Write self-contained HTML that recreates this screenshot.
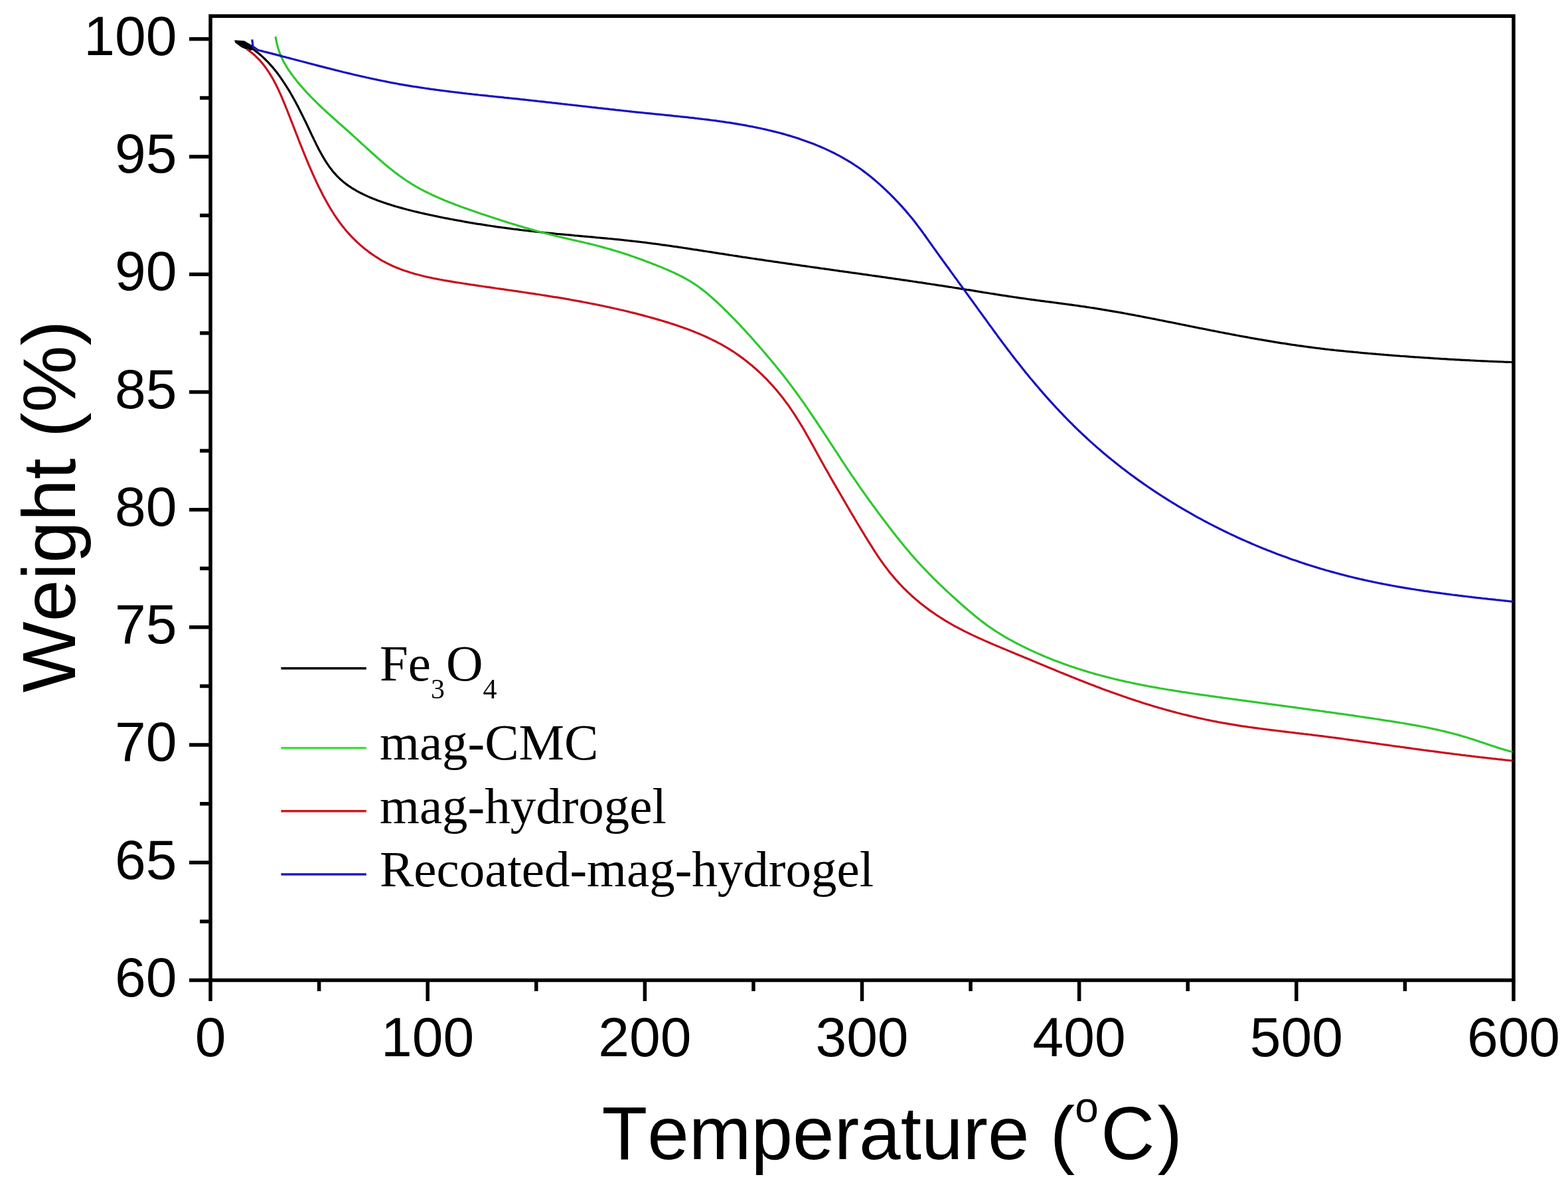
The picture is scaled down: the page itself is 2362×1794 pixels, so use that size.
<!DOCTYPE html>
<html><head><meta charset="utf-8"><title>TGA curves</title>
<style>
html,body{margin:0;padding:0;background:#fff;}
body{width:2362px;height:1794px;overflow:hidden;}
svg{display:block;}
text{font-kerning:none;}
.tl{font-family:"Liberation Sans",Arial,sans-serif;font-size:84.0px;fill:#000;}
.at{font-family:"Liberation Sans",Arial,sans-serif;font-size:112.5px;fill:#000;}
.lg{font-family:"Liberation Serif","Times New Roman",serif;font-size:77.0px;fill:#000;}
</style></head>
<body>
<svg width="2362" height="1794" viewBox="0 0 2362 1794">
<rect width="2362" height="1794" fill="#fff"/>
<rect x="317.05" y="24.20" width="1962.95" height="1452.30" fill="none" stroke="#000" stroke-width="5.5"/>
<path d="M317.05 1476.50V1508.00M480.63 1476.50V1493.00M644.21 1476.50V1508.00M807.79 1476.50V1493.00M971.37 1476.50V1508.00M1134.95 1476.50V1493.00M1298.53 1476.50V1508.00M1462.10 1476.50V1493.00M1625.68 1476.50V1508.00M1789.26 1476.50V1493.00M1952.84 1476.50V1508.00M2116.42 1476.50V1493.00M2280.00 1476.50V1508.00M317.05 1476.50H285.05M317.05 1387.89H301.05M317.05 1299.29H285.05M317.05 1210.68H301.05M317.05 1122.08H285.05M317.05 1033.47H301.05M317.05 944.86H285.05M317.05 856.26H301.05M317.05 767.65H285.05M317.05 679.04H301.05M317.05 590.44H285.05M317.05 501.83H301.05M317.05 413.22H285.05M317.05 324.62H301.05M317.05 236.01H285.05M317.05 147.41H301.05M317.05 58.80H285.05" stroke="#000" stroke-width="5.5" fill="none"/>
<text x="266.5" y="1500.7" class="tl" text-anchor="end">60</text>
<text x="266.5" y="1323.5" class="tl" text-anchor="end">65</text>
<text x="266.5" y="1146.3" class="tl" text-anchor="end">70</text>
<text x="266.5" y="969.1" class="tl" text-anchor="end">75</text>
<text x="266.5" y="791.9" class="tl" text-anchor="end">80</text>
<text x="266.5" y="614.6" class="tl" text-anchor="end">85</text>
<text x="266.5" y="437.4" class="tl" text-anchor="end">90</text>
<text x="266.5" y="260.2" class="tl" text-anchor="end">95</text>
<text x="266.5" y="83.0" class="tl" text-anchor="end">100</text>
<text x="317.1" y="1591.0" class="tl" text-anchor="middle">0</text>
<text x="644.2" y="1591.0" class="tl" text-anchor="middle">100</text>
<text x="971.4" y="1591.0" class="tl" text-anchor="middle">200</text>
<text x="1298.5" y="1591.0" class="tl" text-anchor="middle">300</text>
<text x="1625.7" y="1591.0" class="tl" text-anchor="middle">400</text>
<text x="1952.8" y="1591.0" class="tl" text-anchor="middle">500</text>
<text x="2280.0" y="1591.0" class="tl" text-anchor="middle">600</text>
<text transform="translate(112.6 763.0) rotate(-90)" class="at" text-anchor="middle" style="font-size:113.3px">Weight (%)</text>
<text x="906.5" y="1745.7" class="at">Temperature (<tspan font-size="64.0" dy="-56.0">o</tspan><tspan dy="56.0" dx="3.5">C</tspan><tspan dx="4.0">)</tspan></text>
<path d="M367.0 65.5L369.7 66.9L372.3 68.4L375.0 70.0L377.5 71.6L380.0 73.3L382.5 75.0L384.9 76.8L387.3 78.6L389.6 80.5L391.9 82.4L394.2 84.4L396.4 86.4L398.6 88.5L400.7 90.6L402.8 92.7L404.9 94.9L406.9 97.1L408.9 99.4L410.9 101.6L412.8 103.9L414.7 106.3L416.5 108.6L418.4 111.0L420.2 113.4L421.9 115.9L423.7 118.3L425.4 120.8L427.0 123.3L428.7 125.8L430.3 128.3L431.9 130.8L433.5 133.3L435.1 135.9L436.6 138.4L438.1 141.0L439.6 143.6L441.1 146.2L442.5 148.8L444.0 151.4L445.4 154.0L446.8 156.7L448.2 159.3L449.6 162.0L450.9 164.6L452.3 167.3L453.6 170.0L455.0 172.7L456.3 175.4L457.6 178.1L458.9 180.8L460.3 183.5L461.6 186.2L462.9 189.0L464.2 191.7L465.5 194.5L466.8 197.2L468.1 200.0L469.4 202.8L470.7 205.6L472.1 208.3L473.4 211.1L474.8 213.9L476.1 216.7L477.5 219.4L478.9 222.2L480.3 224.9L481.7 227.6L483.2 230.3L484.7 233.0L486.2 235.6L487.7 238.2L489.3 240.8L490.9 243.4L492.5 245.9L494.2 248.4L495.9 250.8L497.7 253.3L499.5 255.6L501.3 257.9L503.2 260.2L505.2 262.4L507.2 264.6L509.2 266.7L511.3 268.7L513.5 270.7L515.7 272.6L517.9 274.5L520.2 276.3L522.6 278.1L525.0 279.8L527.4 281.4L529.9 283.1L532.4 284.6L535.0 286.1L537.5 287.6L540.2 289.1L542.8 290.5L545.5 291.8L548.2 293.1L550.9 294.4L553.6 295.6L556.4 296.9L559.2 298.0L562.0 299.2L564.8 300.3L567.7 301.4L570.5 302.4L573.4 303.5L576.2 304.5L579.1 305.5L582.0 306.4L584.8 307.4L587.7 308.3L590.6 309.2L593.5 310.1L596.4 311.0L599.3 311.8L602.2 312.6L605.1 313.4L608.0 314.2L610.9 315.0L613.8 315.8L616.7 316.5L619.6 317.3L622.6 318.0L625.5 318.7L628.4 319.4L631.4 320.1L634.3 320.8L637.2 321.4L640.2 322.1L643.1 322.7L646.0 323.4L649.0 324.0L651.9 324.6L654.9 325.3L657.8 325.9L660.7 326.5L663.7 327.1L666.6 327.7L669.6 328.3L672.5 328.8L675.5 329.4L678.4 330.0L681.4 330.5L684.3 331.1L687.3 331.6L690.3 332.2L693.2 332.7L696.2 333.2L699.1 333.8L702.1 334.3L705.1 334.8L708.0 335.3L711.0 335.8L713.9 336.3L716.9 336.8L719.9 337.3L722.8 337.7L725.8 338.2L728.8 338.7L731.7 339.1L734.7 339.6L737.7 340.0L740.7 340.5L743.6 340.9L746.6 341.3L749.6 341.8L752.6 342.2L755.5 342.6L758.5 343.0L761.5 343.4L764.5 343.8L767.5 344.2L770.4 344.6L773.4 345.0L776.4 345.3L779.4 345.7L782.4 346.1L785.4 346.5L788.3 346.8L791.3 347.2L794.3 347.5L797.3 347.9L800.3 348.2L803.3 348.5L806.3 348.9L809.3 349.2L812.3 349.5L815.2 349.8L818.2 350.2L821.2 350.5L824.2 350.8L827.2 351.1L830.2 351.4L833.2 351.7L836.2 352.0L839.2 352.3L842.2 352.5L845.2 352.8L848.2 353.1L851.2 353.4L854.2 353.7L857.2 353.9L860.2 354.2L863.2 354.5L866.2 354.8L869.2 355.0L872.2 355.3L875.2 355.6L878.2 355.9L881.1 356.1L884.1 356.4L887.1 356.7L890.1 356.9L893.1 357.2L896.1 357.5L899.1 357.8L902.1 358.0L905.1 358.3L908.1 358.6L911.1 358.9L914.1 359.2L917.1 359.5L920.1 359.7L923.1 360.0L926.1 360.3L929.1 360.6L932.1 360.9L935.1 361.2L938.1 361.5L941.1 361.9L944.1 362.2L947.0 362.5L950.0 362.8L953.0 363.2L956.0 363.5L959.0 363.8L962.0 364.2L965.0 364.5L968.0 364.9L971.0 365.2L973.9 365.6L976.9 366.0L979.9 366.4L982.9 366.8L985.9 367.1L988.8 367.5L991.8 367.9L994.8 368.3L997.8 368.8L1000.8 369.2L1003.7 369.6L1006.7 370.0L1009.7 370.4L1012.7 370.9L1015.7 371.3L1018.6 371.7L1021.6 372.2L1024.6 372.6L1027.6 373.0L1030.5 373.5L1033.5 373.9L1036.5 374.4L1039.4 374.8L1042.4 375.3L1045.4 375.8L1048.4 376.2L1051.3 376.7L1054.3 377.1L1057.3 377.6L1060.3 378.1L1063.2 378.5L1066.2 379.0L1069.2 379.4L1072.1 379.9L1075.1 380.4L1078.1 380.8L1081.1 381.3L1084.0 381.8L1087.0 382.2L1090.0 382.7L1093.0 383.2L1095.9 383.6L1098.9 384.1L1101.9 384.5L1104.8 385.0L1107.8 385.4L1110.8 385.9L1113.8 386.4L1116.7 386.8L1119.7 387.3L1122.7 387.7L1125.7 388.2L1128.6 388.6L1131.6 389.0L1134.6 389.5L1137.6 389.9L1140.5 390.4L1143.5 390.8L1146.5 391.2L1149.5 391.7L1152.4 392.1L1155.4 392.6L1158.4 393.0L1161.4 393.4L1164.3 393.9L1167.3 394.3L1170.3 394.7L1173.3 395.2L1176.3 395.6L1179.2 396.0L1182.2 396.4L1185.2 396.9L1188.2 397.3L1191.1 397.7L1194.1 398.2L1197.1 398.6L1200.1 399.0L1203.1 399.4L1206.0 399.9L1209.0 400.3L1212.0 400.7L1215.0 401.1L1217.9 401.5L1220.9 402.0L1223.9 402.4L1226.9 402.8L1229.9 403.2L1232.8 403.6L1235.8 404.1L1238.8 404.5L1241.8 404.9L1244.8 405.3L1247.7 405.7L1250.7 406.2L1253.7 406.6L1256.7 407.0L1259.6 407.4L1262.6 407.8L1265.6 408.3L1268.6 408.7L1271.6 409.1L1274.5 409.5L1277.5 409.9L1280.5 410.3L1283.5 410.8L1286.5 411.2L1289.4 411.6L1292.4 412.0L1295.4 412.4L1298.4 412.9L1301.3 413.3L1304.3 413.7L1307.3 414.1L1310.3 414.5L1313.3 415.0L1316.2 415.4L1319.2 415.8L1322.2 416.2L1325.2 416.7L1328.2 417.1L1331.1 417.5L1334.1 417.9L1337.1 418.4L1340.1 418.8L1343.0 419.2L1346.0 419.7L1349.0 420.1L1352.0 420.5L1354.9 420.9L1357.9 421.4L1360.9 421.8L1363.9 422.2L1366.9 422.7L1369.8 423.1L1372.8 423.5L1375.8 424.0L1378.8 424.4L1381.7 424.9L1384.7 425.3L1387.7 425.7L1390.7 426.2L1393.6 426.6L1396.6 427.1L1399.6 427.5L1402.6 428.0L1405.5 428.4L1408.5 428.9L1411.5 429.3L1414.4 429.8L1417.4 430.2L1420.4 430.7L1423.4 431.1L1426.3 431.6L1429.3 432.1L1432.3 432.5L1435.3 433.0L1438.2 433.5L1441.2 433.9L1444.2 434.4L1447.1 434.9L1450.1 435.3L1453.1 435.8L1456.1 436.3L1459.0 436.7L1462.0 437.2L1465.0 437.7L1467.9 438.2L1470.9 438.7L1473.9 439.1L1476.8 439.6L1479.8 440.1L1482.8 440.6L1485.8 441.0L1488.7 441.5L1491.7 442.0L1494.7 442.4L1497.6 442.9L1500.6 443.4L1503.6 443.8L1506.6 444.3L1509.5 444.8L1512.5 445.2L1515.5 445.7L1518.4 446.1L1521.4 446.6L1524.4 447.0L1527.4 447.5L1530.3 447.9L1533.3 448.3L1536.3 448.8L1539.3 449.2L1542.3 449.6L1545.2 450.0L1548.2 450.5L1551.2 450.9L1554.2 451.3L1557.2 451.7L1560.1 452.1L1563.1 452.5L1566.1 452.9L1569.1 453.3L1572.1 453.7L1575.1 454.1L1578.0 454.4L1581.0 454.8L1584.0 455.2L1587.0 455.6L1590.0 456.0L1593.0 456.4L1595.9 456.8L1598.9 457.2L1601.9 457.6L1604.9 458.0L1607.9 458.4L1610.9 458.8L1613.8 459.2L1616.8 459.6L1619.8 460.0L1622.8 460.4L1625.8 460.8L1628.7 461.3L1631.7 461.7L1634.7 462.1L1637.7 462.6L1640.6 463.0L1643.6 463.5L1646.6 463.9L1649.6 464.4L1652.5 464.9L1655.5 465.3L1658.5 465.8L1661.4 466.3L1664.4 466.8L1667.4 467.3L1670.3 467.8L1673.3 468.3L1676.2 468.8L1679.2 469.3L1682.2 469.8L1685.1 470.4L1688.1 470.9L1691.1 471.4L1694.0 472.0L1697.0 472.5L1699.9 473.1L1702.9 473.6L1705.8 474.2L1708.8 474.7L1711.8 475.3L1714.7 475.8L1717.7 476.4L1720.6 477.0L1723.6 477.6L1726.5 478.1L1729.5 478.7L1732.4 479.3L1735.4 479.9L1738.3 480.4L1741.3 481.0L1744.2 481.6L1747.2 482.2L1750.1 482.8L1753.1 483.4L1756.0 484.0L1759.0 484.6L1761.9 485.2L1764.9 485.7L1767.8 486.3L1770.8 486.9L1773.7 487.5L1776.7 488.1L1779.6 488.7L1782.6 489.3L1785.5 489.9L1788.5 490.5L1791.4 491.1L1794.4 491.7L1797.3 492.3L1800.3 492.9L1803.2 493.5L1806.2 494.1L1809.1 494.7L1812.1 495.2L1815.0 495.8L1818.0 496.4L1820.9 497.0L1823.9 497.6L1826.8 498.2L1829.8 498.7L1832.7 499.3L1835.7 499.9L1838.6 500.5L1841.6 501.0L1844.6 501.6L1847.5 502.2L1850.5 502.7L1853.4 503.3L1856.4 503.9L1859.3 504.4L1862.3 505.0L1865.2 505.5L1868.2 506.1L1871.2 506.6L1874.1 507.2L1877.1 507.7L1880.0 508.2L1883.0 508.8L1886.0 509.3L1888.9 509.8L1891.9 510.3L1894.8 510.9L1897.8 511.4L1900.8 511.9L1903.7 512.4L1906.7 512.9L1909.7 513.4L1912.6 513.9L1915.6 514.4L1918.6 514.9L1921.5 515.4L1924.5 515.8L1927.5 516.3L1930.4 516.8L1933.4 517.2L1936.4 517.7L1939.4 518.2L1942.3 518.6L1945.3 519.1L1948.3 519.5L1951.3 519.9L1954.2 520.4L1957.2 520.8L1960.2 521.2L1963.2 521.6L1966.1 522.0L1969.1 522.4L1972.1 522.8L1975.1 523.2L1978.1 523.6L1981.0 524.0L1984.0 524.4L1987.0 524.7L1990.0 525.1L1993.0 525.4L1996.0 525.8L1999.0 526.1L2002.0 526.5L2004.9 526.8L2007.9 527.1L2010.9 527.5L2013.9 527.8L2016.9 528.1L2019.9 528.4L2022.9 528.7L2025.9 529.0L2028.9 529.3L2031.9 529.6L2034.9 529.9L2037.9 530.2L2040.9 530.5L2043.9 530.7L2046.9 531.0L2049.9 531.3L2052.9 531.6L2055.9 531.8L2058.8 532.1L2061.8 532.4L2064.8 532.6L2067.8 532.9L2070.8 533.1L2073.8 533.4L2076.8 533.6L2079.8 533.9L2082.8 534.1L2085.8 534.4L2088.8 534.6L2091.8 534.9L2094.8 535.1L2097.8 535.3L2100.8 535.6L2103.8 535.8L2106.8 536.0L2109.8 536.3L2112.8 536.5L2115.8 536.7L2118.8 536.9L2121.8 537.1L2124.8 537.4L2127.8 537.6L2130.8 537.8L2133.8 538.0L2136.8 538.2L2139.8 538.4L2142.8 538.6L2145.8 538.8L2148.8 539.0L2151.8 539.2L2154.8 539.4L2157.8 539.6L2160.8 539.8L2163.8 540.0L2166.8 540.2L2169.8 540.4L2172.8 540.6L2175.8 540.7L2178.8 540.9L2181.8 541.1L2184.8 541.3L2187.9 541.4L2190.9 541.6L2193.9 541.8L2196.9 541.9L2199.9 542.1L2202.9 542.3L2205.9 542.4L2208.9 542.6L2211.9 542.7L2214.9 542.9L2217.9 543.0L2220.9 543.2L2223.9 543.3L2226.9 543.5L2229.9 543.6L2232.9 543.8L2235.9 543.9L2238.9 544.0L2241.9 544.2L2244.9 544.3L2247.9 544.4L2250.9 544.6L2253.9 544.7L2257.0 544.8L2260.0 544.9L2263.0 545.0L2266.0 545.2L2269.0 545.3L2272.0 545.4L2275.0 545.5L2278.0 545.6" stroke="#000" stroke-width="3.2" fill="none" stroke-linejoin="round" stroke-linecap="round"/>
<path d="M415.3 56.4L415.8 59.4L416.4 62.4L417.0 65.3L417.7 68.2L418.5 71.1L419.4 74.0L420.3 76.8L421.3 79.6L422.4 82.4L423.5 85.2L424.8 87.9L426.1 90.6L427.4 93.2L428.9 95.8L430.4 98.4L432.0 101.0L433.6 103.6L435.2 106.1L437.0 108.5L438.7 111.0L440.5 113.4L442.3 115.9L444.1 118.2L446.0 120.6L447.9 122.9L449.8 125.3L451.7 127.6L453.7 129.8L455.7 132.1L457.6 134.3L459.6 136.6L461.7 138.8L463.7 141.0L465.8 143.1L467.8 145.3L469.9 147.4L472.0 149.6L474.2 151.7L476.3 153.8L478.4 155.9L480.6 158.0L482.7 160.0L484.9 162.1L487.1 164.1L489.3 166.2L491.5 168.2L493.7 170.2L495.9 172.3L498.2 174.3L500.4 176.3L502.6 178.3L504.9 180.3L507.1 182.3L509.4 184.3L511.6 186.3L513.9 188.3L516.1 190.3L518.4 192.3L520.6 194.3L522.9 196.3L525.1 198.3L527.4 200.3L529.6 202.3L531.9 204.4L534.1 206.4L536.3 208.4L538.6 210.4L540.8 212.5L543.0 214.5L545.2 216.6L547.5 218.6L549.7 220.6L551.9 222.7L554.2 224.7L556.4 226.7L558.6 228.8L560.9 230.8L563.1 232.8L565.3 234.8L567.6 236.8L569.8 238.8L572.1 240.8L574.4 242.8L576.7 244.7L578.9 246.7L581.2 248.6L583.5 250.5L585.9 252.4L588.2 254.3L590.5 256.1L592.9 258.0L595.2 259.8L597.6 261.6L600.0 263.4L602.4 265.2L604.8 266.9L607.3 268.6L609.7 270.3L612.2 272.0L614.7 273.6L617.2 275.2L619.7 276.8L622.3 278.3L624.8 279.9L627.4 281.4L630.0 282.8L632.6 284.3L635.3 285.7L637.9 287.1L640.6 288.5L643.3 289.8L646.0 291.1L648.7 292.4L651.4 293.7L654.1 295.0L656.8 296.2L659.6 297.4L662.4 298.6L665.1 299.8L667.9 301.0L670.7 302.2L673.5 303.3L676.3 304.4L679.1 305.5L681.9 306.6L684.8 307.7L687.6 308.8L690.4 309.8L693.3 310.9L696.1 311.9L699.0 313.0L701.8 314.0L704.7 315.0L707.5 316.0L710.4 317.0L713.3 318.0L716.1 319.0L719.0 319.9L721.8 320.9L724.7 321.9L727.5 322.9L730.4 323.8L733.3 324.8L736.1 325.7L739.0 326.7L741.8 327.6L744.7 328.6L747.5 329.5L750.4 330.4L753.2 331.3L756.1 332.3L759.0 333.2L761.8 334.1L764.7 335.0L767.5 335.9L770.4 336.8L773.2 337.6L776.1 338.5L779.0 339.4L781.8 340.2L784.7 341.1L787.6 341.9L790.4 342.8L793.3 343.6L796.2 344.4L799.1 345.3L801.9 346.1L804.8 346.9L807.7 347.7L810.6 348.5L813.5 349.3L816.4 350.0L819.3 350.8L822.2 351.6L825.1 352.3L828.0 353.1L830.9 353.8L833.8 354.5L836.7 355.3L839.6 356.0L842.5 356.7L845.5 357.4L848.4 358.1L851.3 358.8L854.3 359.4L857.2 360.1L860.1 360.8L863.1 361.5L866.0 362.1L868.9 362.8L871.9 363.5L874.8 364.1L877.8 364.8L880.7 365.5L883.6 366.2L886.6 366.9L889.5 367.6L892.4 368.3L895.4 369.0L898.3 369.8L901.2 370.5L904.1 371.3L907.0 372.1L909.9 372.9L912.8 373.7L915.7 374.5L918.6 375.3L921.5 376.1L924.4 377.0L927.2 377.9L930.1 378.8L933.0 379.6L935.8 380.6L938.7 381.5L941.6 382.4L944.4 383.3L947.3 384.3L950.1 385.3L952.9 386.2L955.8 387.2L958.6 388.2L961.4 389.2L964.3 390.3L967.1 391.3L969.9 392.3L972.7 393.4L975.5 394.4L978.3 395.5L981.1 396.6L983.9 397.7L986.7 398.8L989.5 399.9L992.3 401.0L995.1 402.1L997.9 403.3L1000.7 404.4L1003.4 405.6L1006.2 406.8L1008.9 408.0L1011.7 409.2L1014.4 410.4L1017.1 411.7L1019.8 413.0L1022.5 414.3L1025.2 415.7L1027.9 417.0L1030.5 418.5L1033.1 419.9L1035.7 421.4L1038.3 422.9L1040.9 424.4L1043.4 426.0L1045.9 427.6L1048.4 429.3L1050.9 431.0L1053.3 432.8L1055.7 434.6L1058.1 436.4L1060.5 438.2L1062.8 440.1L1065.2 442.1L1067.5 444.0L1069.8 446.0L1072.1 448.0L1074.3 450.0L1076.6 452.0L1078.8 454.0L1081.0 456.1L1083.2 458.2L1085.4 460.2L1087.6 462.3L1089.8 464.4L1091.9 466.5L1094.1 468.6L1096.2 470.7L1098.3 472.9L1100.4 475.0L1102.5 477.1L1104.6 479.3L1106.7 481.4L1108.8 483.6L1110.9 485.8L1112.9 487.9L1115.0 490.1L1117.0 492.3L1119.1 494.5L1121.1 496.7L1123.1 498.9L1125.1 501.1L1127.2 503.3L1129.2 505.5L1131.2 507.7L1133.2 510.0L1135.2 512.2L1137.1 514.5L1139.1 516.7L1141.1 519.0L1143.1 521.2L1145.1 523.5L1147.0 525.7L1149.0 528.0L1150.9 530.3L1152.9 532.6L1154.9 534.9L1156.8 537.2L1158.8 539.5L1160.7 541.8L1162.6 544.1L1164.5 546.4L1166.5 548.7L1168.4 551.0L1170.3 553.4L1172.2 555.7L1174.1 558.1L1176.0 560.4L1177.8 562.8L1179.7 565.1L1181.6 567.5L1183.4 569.9L1185.3 572.3L1187.1 574.7L1188.9 577.1L1190.7 579.5L1192.5 581.9L1194.3 584.3L1196.1 586.7L1197.9 589.1L1199.6 591.5L1201.4 594.0L1203.2 596.4L1204.9 598.9L1206.6 601.3L1208.4 603.8L1210.1 606.2L1211.8 608.7L1213.5 611.2L1215.3 613.6L1217.0 616.1L1218.7 618.6L1220.3 621.1L1222.0 623.5L1223.7 626.0L1225.4 628.5L1227.1 631.0L1228.7 633.5L1230.4 636.0L1232.1 638.5L1233.7 641.0L1235.4 643.5L1237.1 646.0L1238.7 648.5L1240.4 651.0L1242.0 653.6L1243.7 656.1L1245.3 658.6L1247.0 661.1L1248.6 663.6L1250.2 666.1L1251.9 668.6L1253.5 671.1L1255.2 673.7L1256.8 676.2L1258.5 678.7L1260.1 681.2L1261.8 683.7L1263.4 686.2L1265.0 688.7L1266.7 691.3L1268.3 693.8L1270.0 696.3L1271.7 698.8L1273.3 701.3L1275.0 703.8L1276.6 706.3L1278.3 708.8L1280.0 711.3L1281.7 713.8L1283.3 716.3L1285.0 718.7L1286.7 721.2L1288.4 723.7L1290.1 726.2L1291.8 728.7L1293.5 731.1L1295.2 733.6L1297.0 736.1L1298.7 738.5L1300.4 741.0L1302.1 743.4L1303.9 745.9L1305.6 748.3L1307.4 750.8L1309.1 753.2L1310.9 755.7L1312.7 758.1L1314.4 760.5L1316.2 762.9L1318.0 765.4L1319.8 767.8L1321.5 770.2L1323.3 772.6L1325.1 775.0L1326.9 777.4L1328.7 779.8L1330.5 782.2L1332.4 784.6L1334.2 787.0L1336.0 789.4L1337.8 791.8L1339.6 794.2L1341.5 796.6L1343.3 798.9L1345.1 801.3L1347.0 803.7L1348.8 806.0L1350.7 808.4L1352.6 810.8L1354.4 813.1L1356.3 815.4L1358.2 817.8L1360.1 820.1L1362.0 822.4L1363.9 824.7L1365.8 827.0L1367.8 829.3L1369.7 831.6L1371.7 833.9L1373.6 836.2L1375.6 838.4L1377.6 840.7L1379.6 842.9L1381.6 845.2L1383.6 847.4L1385.7 849.6L1387.7 851.8L1389.8 854.0L1391.8 856.2L1393.9 858.4L1396.0 860.5L1398.1 862.7L1400.2 864.8L1402.3 867.0L1404.4 869.1L1406.5 871.3L1408.7 873.4L1410.8 875.5L1413.0 877.6L1415.1 879.7L1417.3 881.8L1419.5 883.9L1421.6 885.9L1423.8 888.0L1426.0 890.1L1428.2 892.1L1430.4 894.1L1432.7 896.2L1434.9 898.2L1437.1 900.2L1439.3 902.3L1441.6 904.3L1443.8 906.3L1446.0 908.3L1448.3 910.3L1450.6 912.2L1452.8 914.2L1455.1 916.2L1457.4 918.2L1459.6 920.1L1461.9 922.0L1464.2 924.0L1466.5 925.9L1468.8 927.8L1471.2 929.7L1473.5 931.6L1475.8 933.4L1478.2 935.3L1480.6 937.1L1483.0 938.9L1485.4 940.7L1487.8 942.5L1490.2 944.2L1492.7 945.9L1495.2 947.6L1497.7 949.3L1500.2 950.9L1502.7 952.5L1505.3 954.1L1507.8 955.7L1510.4 957.3L1513.0 958.8L1515.6 960.3L1518.3 961.8L1520.9 963.3L1523.5 964.7L1526.2 966.2L1528.9 967.6L1531.5 969.0L1534.2 970.4L1536.9 971.7L1539.6 973.1L1542.3 974.4L1545.0 975.8L1547.7 977.1L1550.4 978.4L1553.1 979.6L1555.8 980.9L1558.6 982.2L1561.3 983.4L1564.1 984.6L1566.8 985.8L1569.6 987.0L1572.3 988.2L1575.1 989.4L1577.9 990.5L1580.7 991.6L1583.5 992.8L1586.2 993.9L1589.0 995.0L1591.8 996.0L1594.6 997.1L1597.5 998.1L1600.3 999.2L1603.1 1000.2L1605.9 1001.2L1608.8 1002.2L1611.6 1003.2L1614.4 1004.2L1617.3 1005.1L1620.1 1006.1L1623.0 1007.0L1625.8 1007.9L1628.7 1008.8L1631.5 1009.7L1634.4 1010.6L1637.3 1011.5L1640.2 1012.4L1643.0 1013.2L1645.9 1014.0L1648.8 1014.9L1651.7 1015.7L1654.6 1016.5L1657.5 1017.3L1660.4 1018.0L1663.3 1018.8L1666.2 1019.6L1669.1 1020.3L1672.0 1021.0L1674.9 1021.8L1677.8 1022.5L1680.7 1023.2L1683.7 1023.9L1686.6 1024.6L1689.5 1025.2L1692.4 1025.9L1695.4 1026.6L1698.3 1027.2L1701.2 1027.8L1704.2 1028.5L1707.1 1029.1L1710.1 1029.7L1713.0 1030.3L1715.9 1030.9L1718.9 1031.5L1721.8 1032.1L1724.8 1032.6L1727.7 1033.2L1730.7 1033.8L1733.6 1034.3L1736.6 1034.8L1739.6 1035.4L1742.5 1035.9L1745.5 1036.4L1748.5 1037.0L1751.4 1037.5L1754.4 1038.0L1757.3 1038.5L1760.3 1039.0L1763.3 1039.4L1766.3 1039.9L1769.2 1040.4L1772.2 1040.9L1775.2 1041.4L1778.2 1041.8L1781.1 1042.3L1784.1 1042.7L1787.1 1043.2L1790.1 1043.6L1793.0 1044.1L1796.0 1044.5L1799.0 1045.0L1802.0 1045.4L1805.0 1045.8L1807.9 1046.3L1810.9 1046.7L1813.9 1047.1L1816.9 1047.5L1819.9 1047.9L1822.8 1048.4L1825.8 1048.8L1828.8 1049.2L1831.8 1049.6L1834.8 1050.0L1837.8 1050.4L1840.7 1050.8L1843.7 1051.3L1846.7 1051.7L1849.7 1052.1L1852.7 1052.5L1855.6 1052.9L1858.6 1053.3L1861.6 1053.7L1864.6 1054.1L1867.6 1054.5L1870.5 1054.9L1873.5 1055.3L1876.5 1055.7L1879.5 1056.1L1882.4 1056.5L1885.4 1056.9L1888.4 1057.3L1891.4 1057.7L1894.4 1058.1L1897.3 1058.5L1900.3 1058.9L1903.3 1059.3L1906.3 1059.7L1909.2 1060.1L1912.2 1060.5L1915.2 1060.9L1918.2 1061.3L1921.1 1061.7L1924.1 1062.1L1927.1 1062.5L1930.1 1062.9L1933.0 1063.3L1936.0 1063.7L1939.0 1064.1L1942.0 1064.5L1944.9 1064.9L1947.9 1065.3L1950.9 1065.7L1953.9 1066.1L1956.8 1066.5L1959.8 1066.9L1962.8 1067.4L1965.8 1067.8L1968.7 1068.2L1971.7 1068.6L1974.7 1069.0L1977.7 1069.4L1980.6 1069.8L1983.6 1070.2L1986.6 1070.6L1989.6 1071.0L1992.5 1071.4L1995.5 1071.8L1998.5 1072.3L2001.5 1072.7L2004.4 1073.1L2007.4 1073.5L2010.4 1073.9L2013.4 1074.3L2016.3 1074.8L2019.3 1075.2L2022.3 1075.6L2025.3 1076.0L2028.2 1076.4L2031.2 1076.9L2034.2 1077.3L2037.2 1077.7L2040.1 1078.2L2043.1 1078.6L2046.1 1079.0L2049.0 1079.5L2052.0 1079.9L2055.0 1080.3L2058.0 1080.8L2060.9 1081.2L2063.9 1081.7L2066.9 1082.1L2069.9 1082.5L2072.8 1083.0L2075.8 1083.4L2078.8 1083.9L2081.8 1084.3L2084.7 1084.8L2087.7 1085.3L2090.7 1085.7L2093.7 1086.2L2096.6 1086.6L2099.6 1087.1L2102.6 1087.6L2105.6 1088.1L2108.5 1088.6L2111.5 1089.0L2114.5 1089.5L2117.4 1090.0L2120.4 1090.5L2123.4 1091.1L2126.3 1091.6L2129.3 1092.1L2132.3 1092.6L2135.2 1093.2L2138.2 1093.7L2141.1 1094.3L2144.1 1094.9L2147.0 1095.4L2150.0 1096.0L2152.9 1096.6L2155.9 1097.2L2158.8 1097.9L2161.7 1098.5L2164.7 1099.1L2167.6 1099.8L2170.5 1100.5L2173.5 1101.1L2176.4 1101.8L2179.3 1102.6L2182.2 1103.3L2185.1 1104.0L2188.0 1104.8L2190.9 1105.5L2193.8 1106.3L2196.7 1107.1L2199.6 1107.9L2202.5 1108.8L2205.4 1109.6L2208.3 1110.5L2211.1 1111.3L2214.0 1112.2L2216.9 1113.2L2219.7 1114.1L2222.6 1115.0L2225.4 1116.0L2228.3 1116.9L2231.1 1117.9L2234.0 1118.8L2236.8 1119.8L2239.7 1120.7L2242.5 1121.7L2245.4 1122.7L2248.2 1123.6L2251.1 1124.5L2254.0 1125.5L2256.8 1126.4L2259.7 1127.3L2262.6 1128.2L2265.4 1129.0L2268.3 1129.9L2271.2 1130.7L2274.1 1131.5L2277.0 1132.3" stroke="#2ec82e" stroke-width="3.2" fill="none" stroke-linejoin="round" stroke-linecap="round"/>
<path d="M376.6 77.5L379.0 79.3L381.3 81.3L383.6 83.2L385.8 85.3L387.9 87.3L390.0 89.5L392.0 91.7L393.9 93.9L395.8 96.1L397.6 98.5L399.4 100.8L401.1 103.2L402.8 105.6L404.5 108.1L406.1 110.6L407.6 113.1L409.2 115.6L410.7 118.2L412.1 120.8L413.5 123.4L414.9 126.1L416.3 128.7L417.6 131.4L418.9 134.1L420.2 136.9L421.4 139.6L422.7 142.4L423.9 145.1L425.1 147.9L426.2 150.7L427.4 153.5L428.6 156.3L429.7 159.1L430.8 161.9L432.0 164.7L433.1 167.5L434.2 170.3L435.3 173.1L436.4 176.0L437.5 178.8L438.6 181.6L439.7 184.4L440.8 187.2L441.9 190.0L443.0 192.8L444.1 195.6L445.2 198.5L446.3 201.3L447.4 204.1L448.5 206.9L449.5 209.7L450.6 212.5L451.7 215.3L452.9 218.1L454.0 220.9L455.1 223.7L456.2 226.5L457.3 229.2L458.4 232.0L459.6 234.8L460.7 237.6L461.9 240.4L463.0 243.1L464.2 245.9L465.3 248.7L466.5 251.4L467.7 254.2L468.9 256.9L470.1 259.7L471.3 262.4L472.6 265.2L473.8 267.9L475.1 270.6L476.3 273.3L477.6 276.0L478.9 278.8L480.2 281.5L481.6 284.2L482.9 286.8L484.3 289.5L485.6 292.2L487.0 294.9L488.4 297.5L489.9 300.2L491.3 302.8L492.8 305.5L494.3 308.1L495.8 310.7L497.3 313.3L498.9 315.9L500.5 318.5L502.1 321.0L503.7 323.6L505.4 326.1L507.1 328.6L508.8 331.0L510.5 333.5L512.3 335.9L514.1 338.3L516.0 340.7L517.9 343.1L519.8 345.4L521.7 347.7L523.7 350.0L525.7 352.2L527.7 354.4L529.8 356.6L531.9 358.8L534.0 360.9L536.2 363.0L538.4 365.1L540.6 367.1L542.8 369.1L545.1 371.1L547.4 373.0L549.7 374.9L552.1 376.8L554.4 378.6L556.8 380.4L559.3 382.1L561.7 383.8L564.2 385.5L566.7 387.1L569.2 388.7L571.7 390.3L574.3 391.8L576.9 393.3L579.5 394.7L582.1 396.1L584.8 397.4L587.5 398.7L590.1 400.0L592.9 401.2L595.6 402.4L598.3 403.5L601.1 404.6L603.9 405.7L606.7 406.7L609.5 407.7L612.3 408.6L615.2 409.6L618.0 410.5L620.9 411.3L623.8 412.2L626.7 413.0L629.6 413.8L632.5 414.5L635.4 415.3L638.3 416.0L641.3 416.7L644.2 417.4L647.2 418.0L650.2 418.6L653.1 419.3L656.1 419.8L659.1 420.4L662.1 421.0L665.1 421.5L668.1 422.1L671.1 422.6L674.1 423.1L677.1 423.6L680.1 424.1L683.1 424.6L686.1 425.1L689.1 425.6L692.1 426.0L695.1 426.5L698.1 427.0L701.1 427.4L704.0 427.9L707.0 428.3L710.0 428.8L713.0 429.2L716.0 429.7L719.0 430.1L722.0 430.6L725.0 431.0L727.9 431.5L730.9 431.9L733.9 432.3L736.9 432.7L739.8 433.2L742.8 433.6L745.8 434.0L748.8 434.5L751.7 434.9L754.7 435.3L757.7 435.7L760.6 436.2L763.6 436.6L766.6 437.0L769.5 437.4L772.5 437.9L775.5 438.3L778.4 438.7L781.4 439.2L784.4 439.6L787.3 440.0L790.3 440.5L793.2 440.9L796.2 441.3L799.2 441.8L802.1 442.2L805.1 442.6L808.0 443.1L811.0 443.5L813.9 444.0L816.9 444.5L819.8 444.9L822.8 445.4L825.8 445.8L828.7 446.3L831.7 446.8L834.6 447.3L837.6 447.7L840.5 448.2L843.5 448.7L846.4 449.2L849.4 449.7L852.3 450.2L855.3 450.7L858.3 451.2L861.2 451.8L864.2 452.3L867.1 452.8L870.1 453.4L873.0 453.9L876.0 454.4L878.9 455.0L881.9 455.5L884.8 456.1L887.7 456.7L890.7 457.3L893.6 457.8L896.6 458.4L899.5 459.0L902.5 459.6L905.4 460.2L908.4 460.8L911.3 461.5L914.2 462.1L917.2 462.7L920.1 463.4L923.0 464.0L926.0 464.7L928.9 465.3L931.8 466.0L934.8 466.7L937.7 467.3L940.6 468.0L943.6 468.7L946.5 469.4L949.4 470.2L952.3 470.9L955.3 471.6L958.2 472.3L961.1 473.1L964.0 473.9L967.0 474.6L969.9 475.4L972.8 476.2L975.7 477.0L978.6 477.8L981.5 478.6L984.4 479.4L987.3 480.2L990.2 481.1L993.1 481.9L996.0 482.8L998.9 483.6L1001.8 484.5L1004.7 485.4L1007.6 486.3L1010.5 487.2L1013.4 488.1L1016.2 489.1L1019.1 490.0L1022.0 491.0L1024.8 492.0L1027.7 493.0L1030.5 494.0L1033.4 495.0L1036.2 496.1L1039.0 497.1L1041.8 498.2L1044.6 499.3L1047.4 500.4L1050.2 501.6L1053.0 502.7L1055.8 503.9L1058.5 505.1L1061.3 506.3L1064.0 507.5L1066.7 508.8L1069.4 510.1L1072.1 511.4L1074.8 512.7L1077.5 514.0L1080.1 515.4L1082.8 516.8L1085.4 518.2L1088.0 519.7L1090.6 521.1L1093.2 522.6L1095.8 524.2L1098.3 525.7L1100.9 527.3L1103.4 528.9L1105.9 530.5L1108.4 532.2L1110.8 533.9L1113.3 535.6L1115.7 537.4L1118.1 539.1L1120.5 540.9L1122.9 542.8L1125.3 544.6L1127.6 546.5L1129.9 548.4L1132.3 550.3L1134.5 552.2L1136.8 554.2L1139.1 556.2L1141.3 558.2L1143.5 560.2L1145.7 562.3L1147.9 564.4L1150.0 566.5L1152.2 568.6L1154.3 570.7L1156.4 572.9L1158.4 575.1L1160.5 577.3L1162.5 579.5L1164.5 581.7L1166.5 584.0L1168.5 586.3L1170.5 588.6L1172.4 590.9L1174.3 593.2L1176.2 595.5L1178.1 597.9L1179.9 600.3L1181.7 602.7L1183.5 605.1L1185.3 607.5L1187.1 609.9L1188.8 612.4L1190.5 614.9L1192.2 617.3L1193.9 619.8L1195.6 622.3L1197.2 624.8L1198.8 627.4L1200.4 629.9L1202.0 632.5L1203.6 635.0L1205.2 637.6L1206.7 640.1L1208.3 642.7L1209.8 645.3L1211.3 647.9L1212.8 650.5L1214.3 653.1L1215.8 655.7L1217.3 658.3L1218.8 661.0L1220.3 663.6L1221.7 666.2L1223.2 668.9L1224.7 671.5L1226.1 674.1L1227.6 676.8L1229.0 679.4L1230.5 682.0L1231.9 684.7L1233.4 687.3L1234.8 690.0L1236.3 692.6L1237.7 695.2L1239.2 697.8L1240.7 700.5L1242.1 703.1L1243.6 705.7L1245.1 708.3L1246.6 710.9L1248.1 713.5L1249.6 716.2L1251.0 718.8L1252.5 721.4L1254.0 724.0L1255.5 726.6L1257.0 729.2L1258.5 731.8L1260.0 734.4L1261.5 736.9L1263.0 739.5L1264.6 742.1L1266.1 744.7L1267.6 747.3L1269.1 749.9L1270.6 752.5L1272.1 755.1L1273.6 757.7L1275.1 760.3L1276.6 762.9L1278.2 765.5L1279.7 768.1L1281.2 770.7L1282.7 773.2L1284.3 775.8L1285.8 778.4L1287.3 781.0L1288.9 783.6L1290.4 786.2L1291.9 788.7L1293.5 791.3L1295.0 793.9L1296.6 796.5L1298.1 799.1L1299.7 801.6L1301.3 804.2L1302.8 806.8L1304.4 809.4L1306.0 811.9L1307.6 814.5L1309.2 817.1L1310.8 819.6L1312.4 822.2L1314.0 824.7L1315.6 827.3L1317.3 829.8L1318.9 832.3L1320.6 834.8L1322.2 837.3L1323.9 839.8L1325.6 842.3L1327.3 844.8L1329.1 847.3L1330.8 849.7L1332.6 852.1L1334.4 854.5L1336.2 856.9L1338.0 859.3L1339.9 861.7L1341.8 864.0L1343.7 866.3L1345.6 868.6L1347.6 870.9L1349.5 873.2L1351.5 875.4L1353.6 877.6L1355.6 879.8L1357.7 882.0L1359.7 884.2L1361.8 886.3L1364.0 888.4L1366.1 890.5L1368.3 892.6L1370.5 894.6L1372.7 896.7L1374.9 898.7L1377.2 900.7L1379.4 902.6L1381.7 904.6L1384.0 906.5L1386.3 908.4L1388.7 910.3L1391.0 912.1L1393.4 914.0L1395.8 915.8L1398.2 917.6L1400.6 919.4L1403.1 921.1L1405.5 922.8L1408.0 924.5L1410.5 926.2L1413.0 927.9L1415.5 929.5L1418.0 931.1L1420.5 932.7L1423.1 934.3L1425.6 935.8L1428.2 937.4L1430.8 938.9L1433.4 940.4L1436.0 941.8L1438.7 943.3L1441.3 944.7L1443.9 946.1L1446.6 947.5L1449.3 948.9L1451.9 950.3L1454.6 951.6L1457.3 952.9L1460.0 954.3L1462.7 955.6L1465.4 956.9L1468.2 958.1L1470.9 959.4L1473.6 960.7L1476.4 961.9L1479.1 963.1L1481.9 964.4L1484.6 965.6L1487.4 966.8L1490.1 968.0L1492.9 969.2L1495.7 970.4L1498.5 971.6L1501.2 972.7L1504.0 973.9L1506.8 975.1L1509.6 976.3L1512.4 977.4L1515.2 978.6L1517.9 979.7L1520.7 980.9L1523.5 982.0L1526.3 983.2L1529.1 984.4L1531.9 985.5L1534.7 986.7L1537.4 987.8L1540.2 989.0L1543.0 990.2L1545.8 991.3L1548.6 992.5L1551.3 993.6L1554.1 994.8L1556.9 996.0L1559.7 997.1L1562.4 998.3L1565.2 999.4L1568.0 1000.6L1570.8 1001.7L1573.6 1002.9L1576.3 1004.0L1579.1 1005.2L1581.9 1006.3L1584.7 1007.5L1587.4 1008.6L1590.2 1009.8L1593.0 1010.9L1595.8 1012.1L1598.5 1013.2L1601.3 1014.3L1604.1 1015.5L1606.9 1016.6L1609.7 1017.7L1612.4 1018.8L1615.2 1020.0L1618.0 1021.1L1620.8 1022.2L1623.6 1023.3L1626.4 1024.4L1629.2 1025.5L1631.9 1026.6L1634.7 1027.7L1637.5 1028.8L1640.3 1029.9L1643.1 1031.0L1645.9 1032.0L1648.7 1033.1L1651.5 1034.2L1654.3 1035.2L1657.1 1036.3L1659.9 1037.4L1662.8 1038.4L1665.6 1039.4L1668.4 1040.5L1671.2 1041.5L1674.0 1042.5L1676.8 1043.6L1679.7 1044.6L1682.5 1045.6L1685.3 1046.6L1688.2 1047.6L1691.0 1048.6L1693.8 1049.5L1696.7 1050.5L1699.5 1051.5L1702.4 1052.4L1705.2 1053.4L1708.1 1054.3L1710.9 1055.3L1713.8 1056.2L1716.6 1057.1L1719.5 1058.1L1722.4 1059.0L1725.2 1059.9L1728.1 1060.8L1731.0 1061.6L1733.9 1062.5L1736.7 1063.4L1739.6 1064.3L1742.5 1065.1L1745.4 1066.0L1748.3 1066.8L1751.2 1067.6L1754.1 1068.5L1757.0 1069.3L1759.9 1070.1L1762.8 1070.9L1765.7 1071.7L1768.6 1072.4L1771.5 1073.2L1774.4 1074.0L1777.3 1074.7L1780.2 1075.5L1783.1 1076.2L1786.1 1076.9L1789.0 1077.6L1791.9 1078.4L1794.8 1079.0L1797.8 1079.7L1800.7 1080.4L1803.6 1081.1L1806.6 1081.7L1809.5 1082.4L1812.4 1083.0L1815.4 1083.7L1818.3 1084.3L1821.2 1084.9L1824.2 1085.5L1827.1 1086.1L1830.1 1086.7L1833.0 1087.2L1836.0 1087.8L1838.9 1088.3L1841.9 1088.9L1844.9 1089.4L1847.8 1089.9L1850.8 1090.4L1853.7 1090.9L1856.7 1091.4L1859.7 1091.9L1862.6 1092.4L1865.6 1092.9L1868.6 1093.3L1871.5 1093.8L1874.5 1094.2L1877.5 1094.6L1880.5 1095.1L1883.4 1095.5L1886.4 1095.9L1889.4 1096.3L1892.4 1096.7L1895.3 1097.1L1898.3 1097.5L1901.3 1097.9L1904.3 1098.3L1907.3 1098.7L1910.2 1099.0L1913.2 1099.4L1916.2 1099.8L1919.2 1100.2L1922.2 1100.5L1925.2 1100.9L1928.1 1101.2L1931.1 1101.6L1934.1 1101.9L1937.1 1102.3L1940.1 1102.7L1943.1 1103.0L1946.1 1103.4L1949.0 1103.7L1952.0 1104.1L1955.0 1104.4L1958.0 1104.8L1961.0 1105.1L1964.0 1105.5L1967.0 1105.8L1969.9 1106.2L1972.9 1106.5L1975.9 1106.9L1978.9 1107.3L1981.9 1107.6L1984.9 1108.0L1987.9 1108.4L1990.8 1108.7L1993.8 1109.1L1996.8 1109.5L1999.8 1109.9L2002.8 1110.3L2005.7 1110.7L2008.7 1111.0L2011.7 1111.4L2014.7 1111.8L2017.7 1112.2L2020.6 1112.6L2023.6 1113.0L2026.6 1113.5L2029.6 1113.9L2032.6 1114.3L2035.5 1114.7L2038.5 1115.1L2041.5 1115.5L2044.5 1115.9L2047.4 1116.3L2050.4 1116.8L2053.4 1117.2L2056.4 1117.6L2059.3 1118.0L2062.3 1118.4L2065.3 1118.9L2068.3 1119.3L2071.3 1119.7L2074.2 1120.1L2077.2 1120.5L2080.2 1121.0L2083.2 1121.4L2086.1 1121.8L2089.1 1122.2L2092.1 1122.6L2095.1 1123.0L2098.0 1123.5L2101.0 1123.9L2104.0 1124.3L2107.0 1124.7L2110.0 1125.1L2112.9 1125.5L2115.9 1125.9L2118.9 1126.3L2121.9 1126.7L2124.8 1127.1L2127.8 1127.6L2130.8 1128.0L2133.8 1128.4L2136.8 1128.8L2139.7 1129.2L2142.7 1129.6L2145.7 1130.0L2148.7 1130.4L2151.7 1130.8L2154.6 1131.2L2157.6 1131.5L2160.6 1131.9L2163.6 1132.3L2166.6 1132.7L2169.5 1133.1L2172.5 1133.5L2175.5 1133.9L2178.5 1134.3L2181.5 1134.6L2184.5 1135.0L2187.4 1135.4L2190.4 1135.8L2193.4 1136.1L2196.4 1136.5L2199.4 1136.9L2202.3 1137.3L2205.3 1137.6L2208.3 1138.0L2211.3 1138.4L2214.3 1138.7L2217.3 1139.1L2220.2 1139.4L2223.2 1139.8L2226.2 1140.1L2229.2 1140.5L2232.2 1140.8L2235.2 1141.2L2238.2 1141.5L2241.1 1141.9L2244.1 1142.2L2247.1 1142.6L2250.1 1142.9L2253.1 1143.2L2256.1 1143.6L2259.1 1143.9L2262.1 1144.2L2265.0 1144.5L2268.0 1144.9L2271.0 1145.2L2274.0 1145.5L2277.0 1145.8" stroke="#c8101e" stroke-width="3.2" fill="none" stroke-linejoin="round" stroke-linecap="round"/>
<path d="M388.8 75.5L391.7 76.2L394.6 76.9L397.5 77.7L400.4 78.4L403.3 79.1L406.3 79.9L409.2 80.6L412.1 81.4L415.0 82.1L417.9 82.9L420.8 83.6L423.7 84.4L426.6 85.2L429.5 85.9L432.4 86.7L435.3 87.4L438.2 88.2L441.2 89.0L444.1 89.7L447.0 90.5L449.9 91.3L452.8 92.0L455.7 92.8L458.6 93.5L461.5 94.3L464.4 95.1L467.3 95.8L470.3 96.6L473.2 97.3L476.1 98.1L479.0 98.9L481.9 99.6L484.8 100.4L487.7 101.1L490.7 101.9L493.6 102.6L496.5 103.3L499.4 104.1L502.3 104.8L505.3 105.6L508.2 106.3L511.1 107.0L514.0 107.7L516.9 108.5L519.9 109.2L522.8 109.9L525.7 110.6L528.7 111.3L531.6 112.0L534.5 112.7L537.4 113.4L540.4 114.0L543.3 114.7L546.2 115.4L549.2 116.0L552.1 116.7L555.0 117.3L558.0 118.0L560.9 118.6L563.9 119.3L566.8 119.9L569.7 120.5L572.7 121.1L575.6 121.7L578.6 122.3L581.5 122.9L584.5 123.5L587.4 124.1L590.4 124.6L593.3 125.2L596.3 125.7L599.3 126.3L602.2 126.8L605.2 127.3L608.1 127.8L611.1 128.3L614.1 128.8L617.0 129.3L620.0 129.8L623.0 130.3L625.9 130.7L628.9 131.2L631.9 131.7L634.8 132.1L637.8 132.5L640.8 133.0L643.8 133.4L646.7 133.8L649.7 134.3L652.7 134.7L655.7 135.1L658.7 135.5L661.6 135.9L664.6 136.3L667.6 136.7L670.6 137.0L673.6 137.4L676.6 137.8L679.5 138.2L682.5 138.5L685.5 138.9L688.5 139.2L691.5 139.6L694.5 139.9L697.5 140.3L700.5 140.6L703.4 141.0L706.4 141.3L709.4 141.6L712.4 142.0L715.4 142.3L718.4 142.6L721.4 143.0L724.4 143.3L727.4 143.6L730.4 143.9L733.4 144.2L736.4 144.6L739.4 144.9L742.4 145.2L745.3 145.5L748.3 145.8L751.3 146.1L754.3 146.4L757.3 146.7L760.3 147.1L763.3 147.4L766.3 147.7L769.3 148.0L772.3 148.3L775.3 148.6L778.3 148.9L781.3 149.2L784.3 149.6L787.3 149.9L790.3 150.2L793.2 150.5L796.2 150.8L799.2 151.2L802.2 151.5L805.2 151.8L808.2 152.1L811.2 152.5L814.2 152.8L817.2 153.1L820.2 153.4L823.2 153.8L826.1 154.1L829.1 154.4L832.1 154.8L835.1 155.1L838.1 155.4L841.1 155.8L844.1 156.1L847.1 156.5L850.0 156.8L853.0 157.1L856.0 157.5L859.0 157.8L862.0 158.2L865.0 158.5L868.0 158.8L871.0 159.2L873.9 159.5L876.9 159.9L879.9 160.2L882.9 160.5L885.9 160.9L888.9 161.2L891.9 161.6L894.9 161.9L897.8 162.2L900.8 162.6L903.8 162.9L906.8 163.2L909.8 163.6L912.8 163.9L915.8 164.2L918.8 164.6L921.7 164.9L924.7 165.2L927.7 165.6L930.7 165.9L933.7 166.2L936.7 166.5L939.7 166.9L942.7 167.2L945.7 167.5L948.6 167.8L951.6 168.2L954.6 168.5L957.6 168.8L960.6 169.1L963.6 169.4L966.6 169.7L969.6 170.0L972.6 170.3L975.6 170.6L978.6 170.9L981.6 171.2L984.5 171.5L987.5 171.8L990.5 172.1L993.5 172.4L996.5 172.7L999.5 173.0L1002.5 173.3L1005.5 173.6L1008.5 173.9L1011.5 174.2L1014.5 174.6L1017.5 174.9L1020.5 175.2L1023.5 175.5L1026.5 175.8L1029.5 176.1L1032.4 176.4L1035.4 176.7L1038.4 177.1L1041.4 177.4L1044.4 177.7L1047.4 178.1L1050.4 178.4L1053.4 178.8L1056.4 179.1L1059.4 179.5L1062.3 179.8L1065.3 180.2L1068.3 180.6L1071.3 181.0L1074.3 181.4L1077.3 181.7L1080.2 182.2L1083.2 182.6L1086.2 183.0L1089.2 183.4L1092.1 183.8L1095.1 184.3L1098.1 184.7L1101.1 185.2L1104.0 185.7L1107.0 186.1L1110.0 186.6L1112.9 187.1L1115.9 187.6L1118.9 188.2L1121.8 188.7L1124.8 189.2L1127.7 189.8L1130.7 190.3L1133.7 190.9L1136.6 191.5L1139.6 192.1L1142.5 192.7L1145.5 193.3L1148.4 194.0L1151.4 194.6L1154.3 195.3L1157.2 196.0L1160.2 196.7L1163.1 197.4L1166.0 198.1L1169.0 198.8L1171.9 199.6L1174.8 200.3L1177.7 201.1L1180.6 201.9L1183.5 202.7L1186.4 203.6L1189.3 204.4L1192.2 205.3L1195.1 206.2L1197.9 207.1L1200.8 208.0L1203.7 208.9L1206.5 209.9L1209.3 210.9L1212.2 211.9L1215.0 212.9L1217.8 213.9L1220.6 214.9L1223.4 216.0L1226.2 217.1L1229.0 218.2L1231.8 219.4L1234.6 220.5L1237.3 221.7L1240.1 222.9L1242.8 224.1L1245.5 225.4L1248.2 226.6L1250.9 227.9L1253.6 229.2L1256.3 230.5L1259.0 231.9L1261.6 233.3L1264.3 234.7L1266.9 236.1L1269.5 237.6L1272.1 239.1L1274.7 240.6L1277.3 242.1L1279.8 243.7L1282.4 245.2L1284.9 246.8L1287.4 248.5L1289.9 250.1L1292.4 251.8L1294.9 253.5L1297.4 255.3L1299.8 257.1L1302.2 258.9L1304.6 260.7L1307.0 262.5L1309.4 264.4L1311.8 266.3L1314.1 268.2L1316.4 270.2L1318.7 272.1L1321.0 274.1L1323.3 276.1L1325.6 278.1L1327.8 280.1L1330.1 282.2L1332.3 284.3L1334.5 286.4L1336.7 288.5L1338.9 290.6L1341.0 292.7L1343.1 294.8L1345.3 297.0L1347.4 299.1L1349.5 301.3L1351.6 303.5L1353.6 305.7L1355.7 307.9L1357.7 310.1L1359.7 312.3L1361.7 314.6L1363.7 316.8L1365.6 319.1L1367.6 321.4L1369.5 323.7L1371.4 326.0L1373.3 328.3L1375.2 330.6L1377.1 332.9L1378.9 335.3L1380.7 337.7L1382.5 340.1L1384.3 342.4L1386.1 344.8L1387.9 347.3L1389.7 349.7L1391.4 352.1L1393.2 354.5L1394.9 357.0L1396.6 359.4L1398.4 361.9L1400.1 364.3L1401.8 366.7L1403.6 369.2L1405.3 371.6L1407.1 374.1L1408.8 376.5L1410.6 379.0L1412.3 381.4L1414.1 383.8L1415.8 386.3L1417.6 388.7L1419.4 391.2L1421.1 393.6L1422.9 396.0L1424.7 398.5L1426.4 400.9L1428.2 403.3L1430.0 405.8L1431.7 408.2L1433.5 410.6L1435.3 413.1L1437.0 415.5L1438.8 418.0L1440.6 420.4L1442.4 422.8L1444.1 425.3L1445.9 427.7L1447.7 430.1L1449.5 432.6L1451.2 435.0L1453.0 437.4L1454.8 439.9L1456.5 442.3L1458.3 444.7L1460.1 447.2L1461.8 449.6L1463.6 452.0L1465.4 454.5L1467.1 456.9L1468.9 459.4L1470.7 461.8L1472.4 464.2L1474.2 466.7L1475.9 469.1L1477.7 471.5L1479.5 474.0L1481.2 476.4L1483.0 478.8L1484.8 481.3L1486.5 483.7L1488.3 486.1L1490.0 488.6L1491.8 491.0L1493.6 493.4L1495.4 495.9L1497.1 498.3L1498.9 500.7L1500.7 503.1L1502.5 505.6L1504.2 508.0L1506.0 510.4L1507.8 512.8L1509.6 515.2L1511.4 517.6L1513.2 520.0L1515.0 522.4L1516.8 524.8L1518.6 527.2L1520.5 529.6L1522.3 532.0L1524.1 534.4L1526.0 536.8L1527.8 539.2L1529.6 541.5L1531.5 543.9L1533.4 546.3L1535.2 548.6L1537.1 551.0L1539.0 553.3L1540.8 555.7L1542.7 558.0L1544.6 560.4L1546.5 562.7L1548.4 565.0L1550.3 567.4L1552.2 569.7L1554.2 572.0L1556.1 574.3L1558.0 576.6L1560.0 578.9L1561.9 581.2L1563.9 583.5L1565.8 585.8L1567.8 588.1L1569.8 590.4L1571.7 592.6L1573.7 594.9L1575.7 597.1L1577.7 599.4L1579.7 601.6L1581.7 603.9L1583.8 606.1L1585.8 608.3L1587.8 610.5L1589.9 612.8L1591.9 615.0L1594.0 617.2L1596.0 619.4L1598.1 621.5L1600.2 623.7L1602.2 625.9L1604.3 628.0L1606.4 630.2L1608.5 632.3L1610.6 634.5L1612.8 636.6L1614.9 638.7L1617.0 640.9L1619.2 643.0L1621.3 645.1L1623.5 647.2L1625.6 649.3L1627.8 651.3L1630.0 653.4L1632.2 655.5L1634.4 657.5L1636.6 659.5L1638.8 661.6L1641.0 663.6L1643.2 665.6L1645.5 667.6L1647.7 669.6L1650.0 671.6L1652.2 673.6L1654.5 675.6L1656.8 677.5L1659.0 679.5L1661.3 681.5L1663.6 683.4L1665.9 685.3L1668.2 687.2L1670.6 689.2L1672.9 691.1L1675.2 693.0L1677.6 694.8L1679.9 696.7L1682.2 698.6L1684.6 700.5L1687.0 702.3L1689.3 704.2L1691.7 706.0L1694.1 707.8L1696.5 709.6L1698.9 711.5L1701.3 713.3L1703.7 715.1L1706.1 716.8L1708.6 718.6L1711.0 720.4L1713.4 722.1L1715.9 723.9L1718.3 725.6L1720.8 727.4L1723.3 729.1L1725.7 730.8L1728.2 732.5L1730.7 734.2L1733.2 735.9L1735.7 737.6L1738.2 739.3L1740.7 740.9L1743.2 742.6L1745.7 744.2L1748.2 745.9L1750.8 747.5L1753.3 749.1L1755.8 750.7L1758.4 752.3L1760.9 753.9L1763.5 755.5L1766.1 757.1L1768.6 758.7L1771.2 760.2L1773.8 761.8L1776.4 763.3L1779.0 764.9L1781.5 766.4L1784.1 767.9L1786.7 769.4L1789.4 770.9L1792.0 772.4L1794.6 773.9L1797.2 775.4L1799.8 776.9L1802.5 778.3L1805.1 779.8L1807.8 781.2L1810.4 782.6L1813.0 784.1L1815.7 785.5L1818.4 786.9L1821.0 788.3L1823.7 789.7L1826.4 791.1L1829.0 792.4L1831.7 793.8L1834.4 795.1L1837.1 796.5L1839.8 797.8L1842.5 799.2L1845.2 800.5L1847.9 801.8L1850.6 803.1L1853.3 804.4L1856.1 805.7L1858.8 806.9L1861.5 808.2L1864.2 809.5L1867.0 810.7L1869.7 812.0L1872.5 813.2L1875.2 814.4L1878.0 815.6L1880.7 816.8L1883.5 818.0L1886.2 819.2L1889.0 820.4L1891.8 821.6L1894.5 822.7L1897.3 823.9L1900.1 825.0L1902.9 826.2L1905.7 827.3L1908.5 828.4L1911.3 829.5L1914.1 830.6L1916.9 831.7L1919.7 832.8L1922.5 833.9L1925.3 835.0L1928.1 836.0L1930.9 837.1L1933.7 838.1L1936.6 839.1L1939.4 840.1L1942.2 841.2L1945.1 842.2L1947.9 843.2L1950.7 844.1L1953.6 845.1L1956.4 846.1L1959.3 847.0L1962.1 848.0L1965.0 848.9L1967.8 849.9L1970.7 850.8L1973.6 851.7L1976.4 852.6L1979.3 853.5L1982.2 854.4L1985.1 855.3L1987.9 856.1L1990.8 857.0L1993.7 857.8L1996.6 858.7L1999.5 859.5L2002.4 860.3L2005.3 861.1L2008.2 861.9L2011.1 862.7L2014.0 863.5L2016.9 864.3L2019.8 865.1L2022.7 865.8L2025.6 866.6L2028.5 867.3L2031.4 868.1L2034.3 868.8L2037.3 869.5L2040.2 870.2L2043.1 870.9L2046.0 871.6L2049.0 872.3L2051.9 872.9L2054.8 873.6L2057.8 874.2L2060.7 874.9L2063.6 875.5L2066.6 876.1L2069.5 876.8L2072.5 877.4L2075.4 878.0L2078.4 878.6L2081.3 879.1L2084.3 879.7L2087.2 880.3L2090.2 880.9L2093.1 881.4L2096.1 882.0L2099.1 882.5L2102.0 883.0L2105.0 883.6L2107.9 884.1L2110.9 884.6L2113.9 885.1L2116.8 885.6L2119.8 886.1L2122.8 886.6L2125.8 887.1L2128.7 887.5L2131.7 888.0L2134.7 888.5L2137.7 888.9L2140.6 889.4L2143.6 889.8L2146.6 890.3L2149.6 890.7L2152.5 891.1L2155.5 891.6L2158.5 892.0L2161.5 892.4L2164.5 892.8L2167.5 893.2L2170.4 893.6L2173.4 894.0L2176.4 894.4L2179.4 894.8L2182.4 895.2L2185.4 895.6L2188.4 896.0L2191.4 896.3L2194.3 896.7L2197.3 897.1L2200.3 897.4L2203.3 897.8L2206.3 898.2L2209.3 898.5L2212.3 898.9L2215.3 899.2L2218.3 899.6L2221.2 899.9L2224.2 900.3L2227.2 900.6L2230.2 900.9L2233.2 901.3L2236.2 901.6L2239.2 901.9L2242.2 902.3L2245.2 902.6L2248.1 902.9L2251.1 903.2L2254.1 903.6L2257.1 903.9L2260.1 904.2L2263.1 904.5L2266.1 904.8L2269.0 905.2L2272.0 905.5L2275.0 905.8L2278.0 906.1" stroke="#1810c0" stroke-width="3.2" fill="none" stroke-linejoin="round" stroke-linecap="round"/>
<path d="M353 60.5 L368 61.5 L381 69 L381 75 L376 76.5 L364 71.5 L354.5 64.5 Z" fill="#000"/>
<path d="M367 65.5 L380.7 73.5" stroke="#000" stroke-width="4" fill="none"/>
<path d="M379.8 59.5 L381 70 L388.8 75.5" stroke="#1810c0" stroke-width="3.2" fill="none" stroke-linejoin="round"/>
<path d="M372 74 L376.6 77.5" stroke="#c8101e" stroke-width="3.2" fill="none"/>
<path d="M423.4 1006.7H551.8" stroke="#000" stroke-width="3.6"/>
<text x="572.0" y="1025.0" class="lg">Fe<tspan font-size="42" dy="27">3</tspan><tspan dy="-27" dx="2">O</tspan><tspan font-size="42" dy="27">4</tspan></text>
<path d="M423.4 1126.7H551.8" stroke="#40e040" stroke-width="3.6"/>
<text x="572.0" y="1144.0" class="lg">mag-CMC</text>
<path d="M423.4 1221.8H551.8" stroke="#c81c24" stroke-width="3.6"/>
<text x="572.0" y="1240.0" class="lg">mag-hydrogel</text>
<path d="M423.4 1317.0H551.8" stroke="#2018c8" stroke-width="3.6"/>
<text x="572.0" y="1335.0" class="lg">Recoated-mag-hydrogel</text>
</svg>
</body></html>
